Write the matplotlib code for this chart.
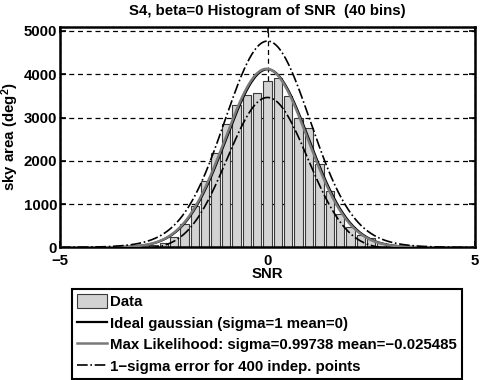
import matplotlib
matplotlib.use("Agg")
import matplotlib.pyplot as plt
import numpy as np

plt.rcParams['font.family'] = ['Liberation Sans', 'DejaVu Sans']
plt.rcParams['font.weight'] = 'bold'
plt.rcParams['mathtext.fontset'] = 'custom'
plt.rcParams['mathtext.rm'] = 'Liberation Sans:bold'
plt.rcParams['mathtext.bf'] = 'Liberation Sans:bold'
plt.rcParams['mathtext.default'] = 'bf'

# histogram of SNR, 40 bins of width 0.25
bin_width = 0.25
bin_index = np.arange(-20, 20)
sky_area = [0, 0, 0, 0, 0, 2, 4, 8, 15, 45,
            110, 245, 550, 960, 1530, 2190, 2840, 3285, 3510, 3570,
            3840, 3920, 3490, 2990, 2750, 1915, 1300, 775, 477, 285,
            208, 93, 37, 15, 6, 3, 1, 0, 0, 0]

total_area = 41253.0   # full sky, deg^2
n_points = 400
ideal_sigma, ideal_mean = 1.0, 0.0
ml_sigma, ml_mean = 0.99738, -0.025485

centers = bin_index * bin_width
x = np.linspace(-5, 5, 501)


def gauss(x, mu, s):
    return total_area * bin_width / (s * np.sqrt(2 * np.pi)) * np.exp(-0.5 * ((x - mu) / s) ** 2)


ideal = gauss(x, ideal_mean, ideal_sigma)
ml = gauss(x, ml_mean, ml_sigma)
err = np.sqrt(ideal * total_area / n_points)

fs = 10.8
fig = plt.figure(figsize=(4.82, 3.8), dpi=100)
ax = fig.add_axes([0.1245, 0.349, 0.861, 0.581])

bars = ax.bar(centers, sky_area, width=0.8 * bin_width, color='#d3d3d3',
              edgecolor='#3a3a3a', linewidth=0.8, zorder=2)
l1, = ax.plot(x, ideal, color='black', lw=1.6, zorder=3)
l2, = ax.plot(x, ml, color='#7a7a7a', lw=1.8, zorder=4)
l3, = ax.plot(x, ideal + err, color='black', lw=1.2, ls='-.', zorder=5)
ax.plot(x, ideal - err, color='black', lw=1.2, ls='-.', zorder=5)

ax.set_xlim(-5, 5)
ax.set_ylim(0, 5100)
ax.set_xticks([-5, 0, 5])
ax.set_yticks(range(0, 5001, 1000))
ax.grid(True, color='black', ls=(0, (4, 3)), lw=0.9, zorder=1)
ax.set_axisbelow(True)
ax.tick_params(direction='in', top=True, right=True, labelsize=fs, length=4, width=1.2, pad=2)
ax.tick_params(axis='x', pad=5)
for s in ax.spines.values():
    s.set_linewidth(1.8)

ax.set_title('S4, beta=0 Histogram of SNR  (40 bins)', fontsize=fs, fontweight='bold', pad=8)
ax.set_xlabel('SNR', fontsize=fs, fontweight='bold', labelpad=-1)
ax.set_ylabel(r'sky area (deg$^{2}$)', fontsize=fs, fontweight='bold', labelpad=2)

leg = fig.legend([bars, l1, l2, l3],
                 ['Data', 'Ideal gaussian (sigma=1 mean=0)',
                  'Max Likelihood: sigma=0.99738 mean=\u22120.025485',
                  '1\u2212sigma error for 400 indep. points'],
                 loc='upper left', bbox_to_anchor=(0.149, 0.239),
                 fontsize=fs, fancybox=False, edgecolor='black', framealpha=1,
                 handlelength=2.0, handleheight=1.1, handletextpad=0.25,
                 labelspacing=0.42, borderpad=0.32, borderaxespad=0)
leg.get_frame().set_linewidth(1.5)

fig.savefig('out.png', dpi=100)
